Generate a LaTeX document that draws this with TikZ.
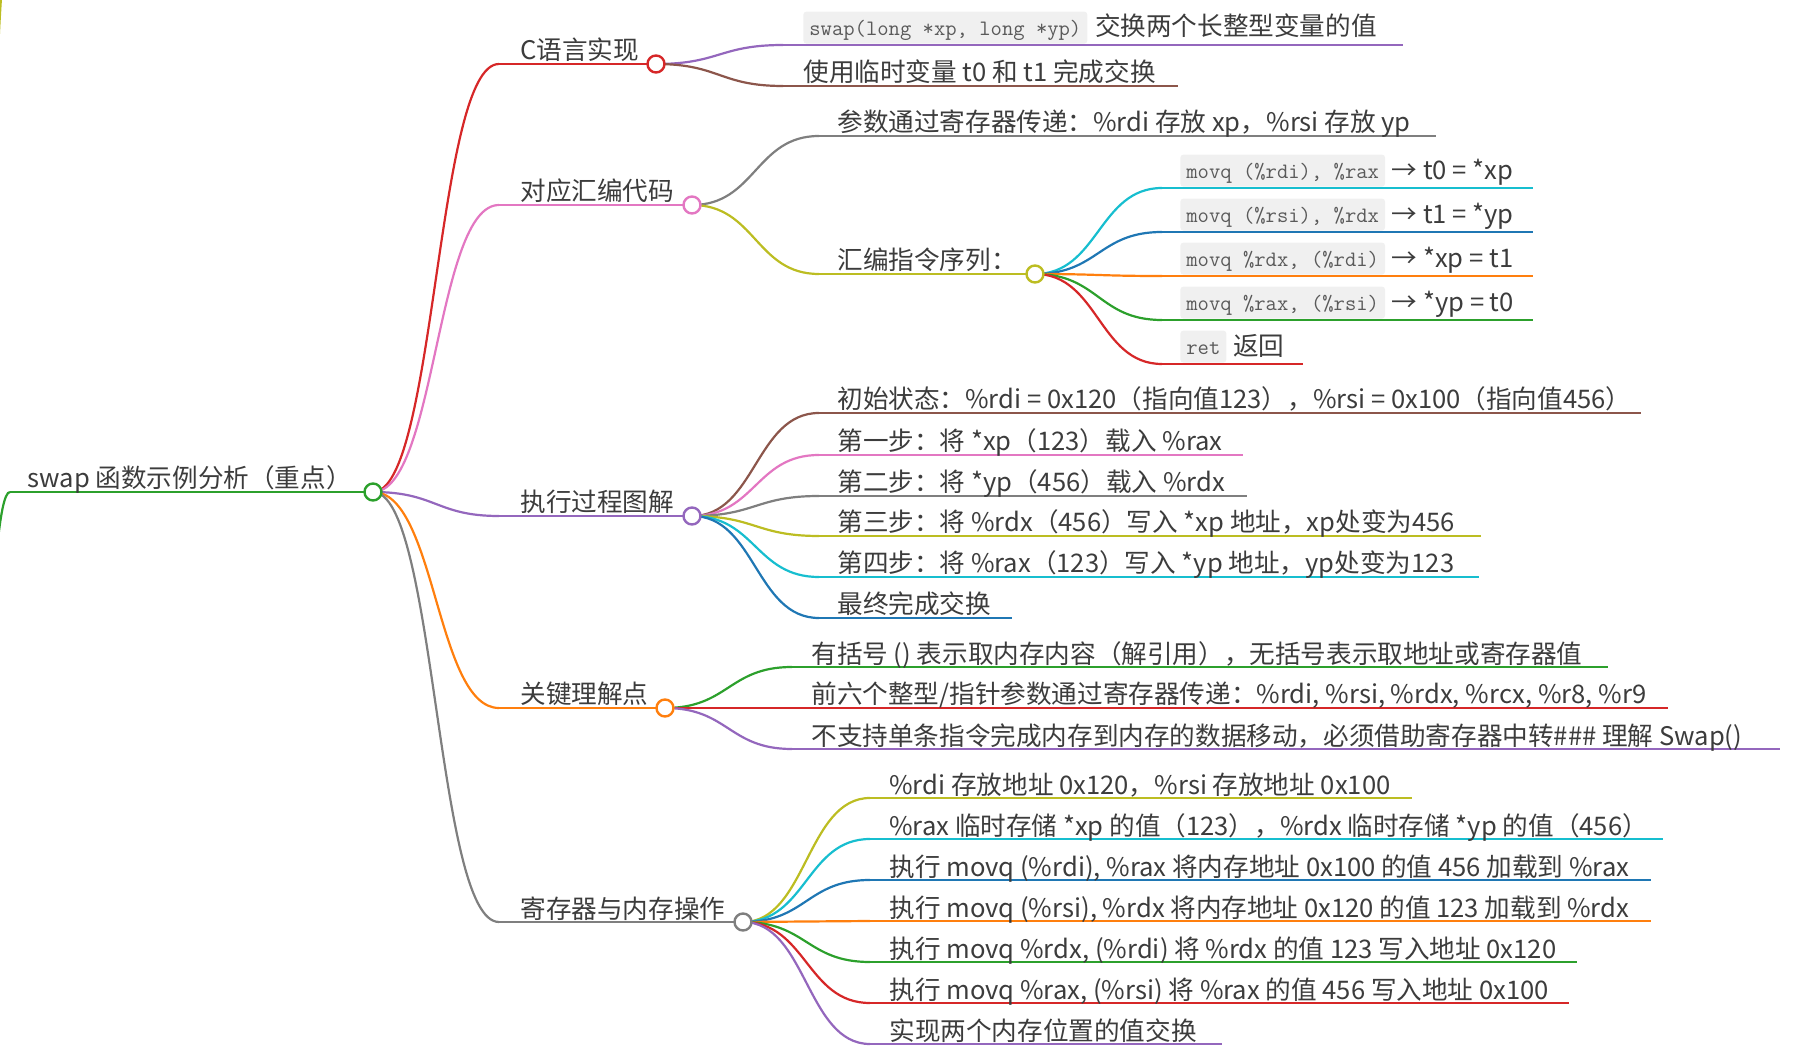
\documentclass[tikz,border=0pt]{standalone}
\usepackage{fontspec}
\setmainfont{Noto Sans CJK SC}
\usepackage{tikz}
\usetikzlibrary{calc,backgrounds}
\definecolor{MInk}{HTML}{3C3C3C}
\definecolor{MCode}{HTML}{5A5A5A}
\definecolor{MCodeBg}{HTML}{F0F0F0}
\definecolor{MBlue}{HTML}{1F77B4}
\definecolor{MOrange}{HTML}{FF7F0E}
\definecolor{MGreen}{HTML}{2CA02C}
\definecolor{MRed}{HTML}{D62728}
\definecolor{MPurple}{HTML}{9467BD}
\definecolor{MBrown}{HTML}{8C564B}
\definecolor{MPink}{HTML}{E377C2}
\definecolor{MGray}{HTML}{7F7F7F}
\definecolor{MOlive}{HTML}{BCBD22}
\definecolor{MCyan}{HTML}{17BECF}

\begin{document}
\begin{tikzpicture}[x=0.5pt, y=-0.5pt,
  mmtext/.style={anchor=base west, inner sep=0pt, text=MInk, font=\fontsize{12.8}{15}\selectfont},
  codebox/.style={anchor=south west, fill=MCodeBg, text=MCode, rounded corners=1.5pt, font=\ttfamily\fontsize{11}{13}\selectfont, inner xsep=3pt, inner ysep=1.5pt, text height=10.5pt, text depth=2.5pt},
  mmdot/.style={circle, fill=white, line width=1.2pt, minimum size=8.5pt, inner sep=0pt},
  uline/.style={line width=1.2pt},
  mmlink/.style={line width=1.1pt, to path={let \p1=(\tikztostart), \p2=(\tikztotarget) in .. controls ({(\x1+\x2)/2},\y1) and ({(\x1+\x2)/2},\y2) .. (\tikztotarget)}}]
\useasboundingbox (0,0) rectangle (1806,1053);

\coordinate (outer) at (-35,880);
\coordinate (above) at (10,-63);
\coordinate (root) at (10,492);
\node[mmtext] (roottxt) at (27,488) {swap 函数示例分析（重点）};
\node[mmdot, draw=MGreen] (rootdot) at (373,492) {};

\coordinate (impl) at (499,64);
\node[mmtext] (impltxt) at (520,60) {C语言实现};
\node[mmdot, draw=MRed] (impldot) at (656,64) {};
\coordinate (asm) at (499,205);
\node[mmtext] (asmtxt) at (520,201) {对应汇编代码};
\node[mmdot, draw=MPink] (asmdot) at (692,205) {};
\coordinate (exec) at (499,516);
\node[mmtext] (exectxt) at (520,512) {执行过程图解};
\node[mmdot, draw=MPurple] (execdot) at (692,516) {};
\coordinate (key) at (499,708);
\node[mmtext] (keytxt) at (520,704) {关键理解点};
\node[mmdot, draw=MOrange] (keydot) at (665,708) {};
\coordinate (reg) at (499,922);
\node[mmtext] (regtxt) at (520,918) {寄存器与内存操作};
\node[mmdot, draw=MGray] (regdot) at (743,922) {};

\coordinate (impl1) at (783,45);
\node[codebox] (impl1code) at (803,44) {swap(long *xp, long *yp)};
\node[mmtext] (impl1txt) at ([xshift=3.5pt]impl1code.base east) {交换两个长整型变量的值};
\coordinate (impl2) at (783,86);
\node[mmtext] (impl2txt) at (803,82) {使用临时变量 t0 和 t1 完成交换};

\coordinate (asm1) at (819,136);
\node[mmtext] (asm1txt) at (837,132) {参数通过寄存器传递：\%rdi 存放 xp，\%rsi 存放 yp};
\coordinate (asm2) at (819,274);
\node[mmtext] (asm2txt) at (837,270) {汇编指令序列：};
\node[mmdot, draw=MOlive] (asm2dot) at (1035,274) {};

\coordinate (seq1) at (1162,188);
\node[codebox] (seq1code) at (1180,187) {movq (\%rdi), \%rax};
\node[mmtext] (seq1txt) at ([xshift=3pt,yshift=-0.5pt]seq1code.base east) {→ t0 = *xp};
\coordinate (seq2) at (1162,232);
\node[codebox] (seq2code) at (1180,231) {movq (\%rsi), \%rdx};
\node[mmtext] (seq2txt) at ([xshift=3pt,yshift=-0.5pt]seq2code.base east) {→ t1 = *yp};
\coordinate (seq3) at (1162,276);
\node[codebox] (seq3code) at (1180,275) {movq \%rdx, (\%rdi)};
\node[mmtext] (seq3txt) at ([xshift=3pt,yshift=-0.5pt]seq3code.base east) {→ *xp = t1};
\coordinate (seq4) at (1162,320);
\node[codebox] (seq4code) at (1180,319) {movq \%rax, (\%rsi)};
\node[mmtext] (seq4txt) at ([xshift=3pt,yshift=-0.5pt]seq4code.base east) {→ *yp = t0};
\coordinate (seq5) at (1162,364);
\node[codebox] (seq5code) at (1180,363) {ret};
\node[mmtext] (seq5txt) at ([xshift=3pt,yshift=-0.5pt]seq5code.base east) {返回};

\coordinate (exec1) at (819,413);
\node[mmtext] (exec1txt) at (837,409) {初始状态：\%rdi = 0x120（指向值123），\%rsi = 0x100（指向值456）};
\coordinate (exec2) at (819,455);
\node[mmtext] (exec2txt) at (837,451) {第一步：将 *xp（123）载入 \%rax};
\coordinate (exec3) at (819,496);
\node[mmtext] (exec3txt) at (837,492) {第二步：将 *yp（456）载入 \%rdx};
\coordinate (exec4) at (819,536);
\node[mmtext] (exec4txt) at (837,532) {第三步：将 \%rdx（456）写入 *xp 地址，xp处变为456};
\coordinate (exec5) at (819,577);
\node[mmtext] (exec5txt) at (837,573) {第四步：将 \%rax（123）写入 *yp 地址，yp处变为123};
\coordinate (exec6) at (819,618);
\node[mmtext] (exec6txt) at (837,614) {最终完成交换};

\coordinate (key1) at (792,667);
\node[mmtext] (key1txt) at (811,663) {有括号 () 表示取内存内容（解引用），无括号表示取地址或寄存器值};
\coordinate (key2) at (792,708);
\node[mmtext] (key2txt) at (811,704) {前六个整型/指针参数通过寄存器传递：\%rdi, \%rsi, \%rdx, \%rcx, \%r8, \%r9};
\coordinate (key3) at (792,749);
\node[mmtext] (key3txt) at (811,745) {不支持单条指令完成内存到内存的数据移动，必须借助寄存器中转\#\#\# 理解 Swap()};

\coordinate (reg1) at (870,798);
\node[mmtext] (reg1txt) at (889,794) {\%rdi 存放地址 0x120，\%rsi 存放地址 0x100};
\coordinate (reg2) at (870,839);
\node[mmtext] (reg2txt) at (889,835) {\%rax 临时存储 *xp 的值（123），\%rdx 临时存储 *yp 的值（456）};
\coordinate (reg3) at (870,880);
\node[mmtext] (reg3txt) at (889,876) {执行 movq (\%rdi), \%rax 将内存地址 0x100 的值 456 加载到 \%rax};
\coordinate (reg4) at (870,921);
\node[mmtext] (reg4txt) at (889,917) {执行 movq (\%rsi), \%rdx 将内存地址 0x120 的值 123 加载到 \%rdx};
\coordinate (reg5) at (870,962);
\node[mmtext] (reg5txt) at (889,958) {执行 movq \%rdx, (\%rdi) 将 \%rdx 的值 123 写入地址 0x120};
\coordinate (reg6) at (870,1003);
\node[mmtext] (reg6txt) at (889,999) {执行 movq \%rax, (\%rsi) 将 \%rax 的值 456 写入地址 0x100};
\coordinate (reg7) at (870,1044);
\node[mmtext] (reg7txt) at (889,1040) {实现两个内存位置的值交换};

\begin{scope}[on background layer]
\draw[mmlink, MGreen] (outer) to (root);
\draw[mmlink, MOlive] (outer) to (above);
\draw[uline, MGreen] (root) -- (rootdot.center);

\draw[mmlink, MRed] (rootdot.center) to (impl);
\draw[uline, MRed] (impl) -- (impldot.center);
\draw[mmlink, MPink] (rootdot.center) to (asm);
\draw[uline, MPink] (asm) -- (asmdot.center);
\draw[mmlink, MPurple] (rootdot.center) to (exec);
\draw[uline, MPurple] (exec) -- (execdot.center);
\draw[mmlink, MOrange] (rootdot.center) to (key);
\draw[uline, MOrange] (key) -- (keydot.center);
\draw[mmlink, MGray] (rootdot.center) to (reg);
\draw[uline, MGray] (reg) -- (regdot.center);

\draw[mmlink, MPurple] (impldot.center) to (impl1);
\draw[uline, MPurple] (impl1) -- ++(620,0);
\draw[mmlink, MBrown] (impldot.center) to (impl2);
\draw[uline, MBrown] (impl2) -- ++(395,0);

\draw[mmlink, MGray] (asmdot.center) to (asm1);
\draw[uline, MGray] (asm1) -- ++(617,0);
\draw[mmlink, MOlive] (asmdot.center) to (asm2);
\draw[uline, MOlive] (asm2) -- (asm2dot.center);

\draw[mmlink, MCyan] (asm2dot.center) to (seq1);
\draw[uline, MCyan] (seq1) -- ++(371,0);
\draw[mmlink, MBlue] (asm2dot.center) to (seq2);
\draw[uline, MBlue] (seq2) -- ++(371,0);
\draw[mmlink, MOrange] (asm2dot.center) to (seq3);
\draw[uline, MOrange] (seq3) -- ++(371,0);
\draw[mmlink, MGreen] (asm2dot.center) to (seq4);
\draw[uline, MGreen] (seq4) -- ++(371,0);
\draw[mmlink, MRed] (asm2dot.center) to (seq5);
\draw[uline, MRed] (seq5) -- ++(141,0);

\draw[mmlink, MBrown] (execdot.center) to (exec1);
\draw[uline, MBrown] (exec1) -- ++(822,0);
\draw[mmlink, MPink] (execdot.center) to (exec2);
\draw[uline, MPink] (exec2) -- ++(424,0);
\draw[mmlink, MGray] (execdot.center) to (exec3);
\draw[uline, MGray] (exec3) -- ++(428,0);
\draw[mmlink, MOlive] (execdot.center) to (exec4);
\draw[uline, MOlive] (exec4) -- ++(662,0);
\draw[mmlink, MCyan] (execdot.center) to (exec5);
\draw[uline, MCyan] (exec5) -- ++(660,0);
\draw[mmlink, MBlue] (execdot.center) to (exec6);
\draw[uline, MBlue] (exec6) -- ++(193,0);

\draw[mmlink, MGreen] (keydot.center) to (key1);
\draw[uline, MGreen] (key1) -- ++(816,0);
\draw[mmlink, MRed] (keydot.center) to (key2);
\draw[uline, MRed] (key2) -- ++(876,0);
\draw[mmlink, MPurple] (keydot.center) to (key3);
\draw[uline, MPurple] (key3) -- ++(988,0);

\draw[mmlink, MOlive] (regdot.center) to (reg1);
\draw[uline, MOlive] (reg1) -- ++(542,0);
\draw[mmlink, MCyan] (regdot.center) to (reg2);
\draw[uline, MCyan] (reg2) -- ++(793,0);
\draw[mmlink, MBlue] (regdot.center) to (reg3);
\draw[uline, MBlue] (reg3) -- ++(781,0);
\draw[mmlink, MOrange] (regdot.center) to (reg4);
\draw[uline, MOrange] (reg4) -- ++(781,0);
\draw[mmlink, MGreen] (regdot.center) to (reg5);
\draw[uline, MGreen] (reg5) -- ++(707,0);
\draw[mmlink, MRed] (regdot.center) to (reg6);
\draw[uline, MRed] (reg6) -- ++(699,0);
\draw[mmlink, MPurple] (regdot.center) to (reg7);
\draw[uline, MPurple] (reg7) -- ++(352,0);
\end{scope}
\end{tikzpicture}
\end{document}
